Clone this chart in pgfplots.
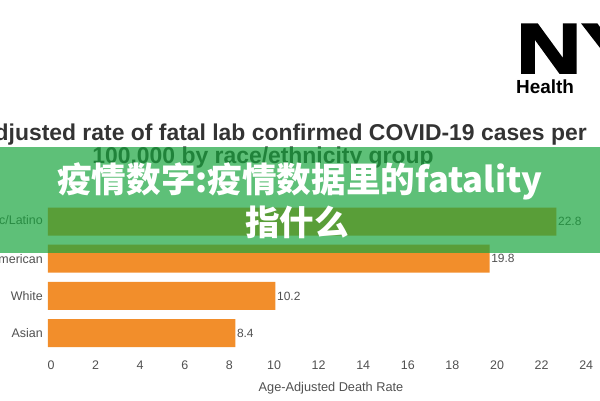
\documentclass[border=0pt]{standalone}
\usepackage{fontspec}
\setmainfont{Liberation Sans}
\newfontfamily\cjk{Noto Sans CJK SC}
\newfontfamily\logofont[FakeBold=2.5]{Liberation Sans Bold}
\usepackage{graphicx}
\usepackage{pgfplots}
\pgfplotsset{compat=1.18}
\usetikzlibrary{calc}
\definecolor{barorange}{RGB}{242,142,43}
\definecolor{banner}{RGB}{25,165,62}
\definecolor{titlegray}{RGB}{51,51,51}
\definecolor{labgray}{RGB}{80,80,80}
\begin{document}
\begin{tikzpicture}
\begin{axis}[name=ax,
  scale only axis, width=535.2bp, height=148.8bp,
  xmin=0, xmax=24, ymin=-0.5, ymax=3.5,
  y dir=reverse,
  xbar, bar width=28bp, bar shift=0pt,
  axis line style={draw=none},
  major tick length=0pt,
  xtick={0,2,...,24},
  ytick={0,1,2,3},
  yticklabels={Hispanic/Latino, Black/African American, White, Asian},
  ticklabel style={font=\fontsize{12.5}{14}\selectfont, text=labgray},
  xticklabel style={anchor=center, yshift=-13.3bp, xshift=3bp},
  yticklabel style={anchor=east, inner sep=0pt, xshift=-5bp},
  /pgf/number format/assume math mode=true,
  point meta=x,
  nodes near coords,
  nodes near coords style={anchor=west, inner sep=1.5bp, font=\fontsize{12}{14}\selectfont, text=labgray,
    /pgf/number format/.cd, fixed, fixed zerofill, precision=1, assume math mode=true},
  clip=false,
]
\addplot[fill=barorange, draw=none] coordinates {(22.8,0) (19.8,1) (10.2,2) (8.4,3)};
\end{axis}
\begin{scope}[x=1bp,y=1bp,shift={($(ax.south west)-(48bp,48.3bp)$)}]
% title
\node[anchor=base east, inner sep=0pt, text=titlegray, font=\fontsize{23}{26}\selectfont\bfseries] at (587,259.5) {Age-adjusted rate of fatal lab confirmed COVID-19 cases per};
\node[anchor=base, inner sep=0pt, text=titlegray, font=\fontsize{23}{26}\selectfont\bfseries] at (263,236.5) {100,000 by race/ethnicity group};
% logo
\node[anchor=base west, inner sep=0pt, font=\fontsize{71}{71}\logofont] at (516,327) {\scalebox{1.28}[1]{NYC}};
\node[anchor=base west, inner sep=0pt, font=\fontsize{19}{22}\selectfont\bfseries] at (516,307) {Health};
% x label
\node[anchor=base, inner sep=0pt, text=labgray, font=\fontsize{12.8}{15}\selectfont] at (331,8.7) {Age-Adjusted Death Rate};
% banner
\fill[banner, opacity=0.7] (0,147) rectangle (600,253.5);
\node[anchor=base, inner sep=0pt, text=white, font=\fontsize{34.7}{40}\cjk\bfseries] at (300,208) {疫情数字:疫情数据里的fatality};
\node[anchor=base, inner sep=0pt, text=white, font=\fontsize{34.7}{40}\cjk\bfseries] at (297,165) {指什么};
\pgfresetboundingbox
\path[use as bounding box] (0,0) rectangle (600,400);
\end{scope}
\end{tikzpicture}
\end{document}
